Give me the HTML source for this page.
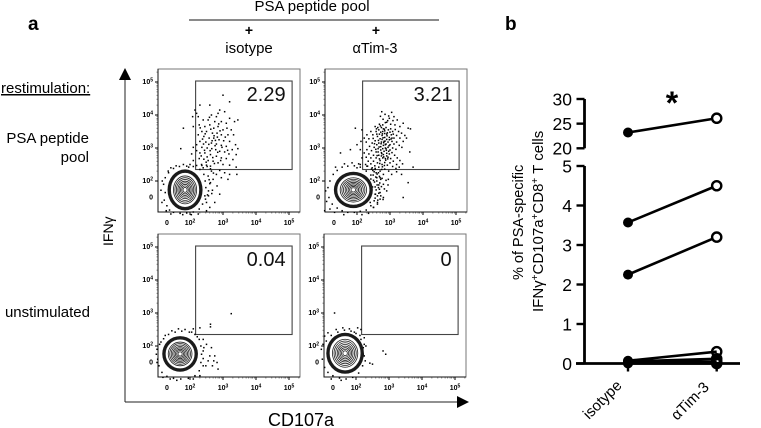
<!DOCTYPE html>
<html lang="en">
<head>
<meta charset="utf-8">
<title>IFN-gamma and CD107a flow panels</title>
<style>
html,body{margin:0;padding:0;background:#fff}
svg{display:block;font-family:"Liberation Sans",sans-serif;filter:blur(0.3px)}
</style>
</head>
<body>
<svg id="fig" xmlns="http://www.w3.org/2000/svg" width="761" height="428" viewBox="0 0 761 428">
<rect width="761" height="428" fill="#fff"/>
<text x="28" y="30" font-size="19" font-weight="bold">a</text>
<text x="505" y="30" font-size="19" font-weight="bold">b</text>
<text x="312" y="11" font-size="15" text-anchor="middle">PSA peptide pool</text>
<line x1="189" y1="20" x2="439" y2="20" stroke="#444" stroke-width="1.2"/>
<text x="249" y="35" font-size="14" font-weight="bold" text-anchor="middle">+</text>
<text x="249" y="53" font-size="15" text-anchor="middle">isotype</text>
<text x="376" y="35" font-size="14" font-weight="bold" text-anchor="middle">+</text>
<text x="375" y="53" font-size="14.5" text-anchor="middle">αTim-3</text>
<text x="1" y="93" font-size="15" text-decoration="underline">restimulation:</text>
<text x="89" y="143" font-size="15" text-anchor="end">PSA peptide</text>
<text x="89" y="162" font-size="15" text-anchor="end">pool</text>
<text x="90" y="317" font-size="15" text-anchor="end">unstimulated</text>
<text transform="translate(113,246) rotate(-90)" font-size="14">IFNγ</text>
<text x="301" y="426" font-size="18" text-anchor="middle">CD107a</text>
<line x1="125" y1="78" x2="125" y2="402" stroke="#222" stroke-width="1"/>
<polygon points="125,68 119,80 131,80" fill="#000"/>
<line x1="125" y1="402" x2="460" y2="402" stroke="#222" stroke-width="1"/>
<polygon points="469,402 457,396 457,408" fill="#000"/>
<g id="flow"></g>
<g id="paired"></g>
<text x="672" y="114" font-size="32" font-weight="bold" text-anchor="middle">*</text>
<text transform="translate(523,280) rotate(-90)" font-size="14.5">% of PSA-specific</text>
<text transform="translate(543,312) rotate(-90)" font-size="15">IFNγ<tspan dy="-5" font-size="10">+</tspan><tspan dy="5">CD107a</tspan><tspan dy="-5" font-size="10">+</tspan><tspan dy="5">CD8</tspan><tspan dy="-5" font-size="10">+</tspan><tspan dy="5"> T cells</tspan></text>
<text transform="translate(589,420) rotate(-45)" font-size="15">isotype</text>
<text transform="translate(677,421) rotate(-45)" font-size="15">αTim-3</text>
</svg>
<script>
// Flow panel data, all values in log10 display decades (CD107a, IFNg pairs).
const flowMajorTicks = [2, 3, 4, 5];
const gateValues = ["2.29", "3.21", "0.04", "0"];
const contourLevels = [1, 0.8, 0.7, 0.6, 0.5, 0.41, 0.32, 0.23, 0.14];
const p1Center = [1.85, 1.73];
const p2Center = [1.89, 1.73];
const p3Center = [1.7, 1.76];
const p4Center = [1.67, 1.78];
const p1Radii = [0.44, 0.53];
const p2Radii = [0.5, 0.46];
const p3Radii = [0.45, 0.45];
const p4Radii = [0.48, 0.53];
const p1Points = [2.3,4.3,2.6,4.3,3.0,4.6,3.2,4.4,2.9,4.15,2.85,4.05,3.05,4.1,2.65,4.0,2.8,3.95,3.2,3.9,3.35,3.8,3.45,3.85,3.1,3.75,2.95,3.8,2.75,3.8,2.55,3.85,2.4,3.85,2.25,3.95,2.2,4.05,2.1,3.65,2.28,3.7,2.45,3.65,2.6,3.7,2.72,3.6,2.85,3.65,3.0,3.55,3.12,3.6,3.25,3.55,3.32,3.4,3.15,3.4,2.95,3.4,2.82,3.45,2.68,3.45,2.5,3.5,2.36,3.5,2.25,3.4,2.42,3.35,2.58,3.3,2.72,3.3,2.88,3.25,3.02,3.22,3.2,3.2,3.38,3.1,3.45,2.98,3.28,2.95,3.1,3.05,2.95,3.08,2.8,3.12,2.65,3.15,2.48,3.18,2.3,3.2,2.2,3.1,2.36,3.02,2.52,3.0,2.66,2.98,2.78,2.95,2.9,2.9,3.05,2.88,3.18,2.82,3.4,2.8,3.3,2.65,3.1,2.68,2.95,2.7,2.8,2.75,2.62,2.8,2.45,2.85,2.3,2.85,2.2,2.92,2.28,2.68,2.42,2.66,2.55,2.62,2.7,2.6,2.85,2.55,3.0,2.5,3.2,2.48,3.4,2.42,2.5,2.48,2.35,2.5,2.62,2.45,1.8,3.6,2.08,3.95,2.15,4.15,2.1,3.02,1.72,2.98,2.05,2.82,2.1,2.62,2.9,2.32,3.05,2.25,3.2,2.2,3.42,2.2,3.15,2.05,2.95,2.1,2.8,2.2,2.7,2.05,2.62,1.95,2.82,1.85,2.9,1.6,2.68,1.72,2.56,1.55,2.75,1.35,2.6,1.2,
2.73,3.37,2.57,3.11,2.44,2.93,2.91,3.52,2.63,3.57,2.77,3.23,2.52,2.73,2.38,3.27,2.84,2.87,2.69,2.71,2.46,3.43,3.07,3.33,2.59,3.93,2.34,2.76,2.76,3.07,2.97,3.02,2.67,3.22,2.87,3.73,2.41,3.12,2.31,3.61,2.93,2.62,3.14,2.93,2.61,2.92,2.74,2.53,2.49,2.57,2.83,3.33];
const p1Fringe = [1.2,1.9,1.25,1.65,1.22,1.42,1.3,1.25,1.38,1.12,1.5,1.05,1.7,1.02,1.9,1.03,2.1,1.06,2.28,1.15,2.38,1.3,2.45,1.55,2.48,1.8,2.46,2.0,2.42,2.2,2.3,2.35,2.1,2.44,1.9,2.45,1.68,2.44,1.5,2.38,1.35,2.25,1.25,2.1,1.16,2.0,1.28,1.1,2.5,1.35,2.55,2.15,1.58,2.46,2.2,2.47,1.8,2.5,2.0,2.5,1.42,2.4,2.4,2.4,1.12,1.72,1.15,1.35,1.42,1.0,2.25,1.0,2.5,1.1,1.78,0.98,2.04,0.98,1.96,2.42,1.34,2.3,2.56,1.7,2.6,1.92,2.65,2.3,2.52,2.44,2.36,2.47,2.62,2.37,2.71,2.24,2.58,2.04,2.47,1.45,2.53,1.58,2.66,1.62];
const p2Points = [2.75,4.1,2.85,4.02,3.05,4.08,3.12,3.95,2.98,3.9,3.22,3.85,3.4,3.75,3.55,3.6,3.62,3.58,3.3,3.65,3.15,3.7,3.02,3.72,2.9,3.78,2.78,3.7,2.68,3.72,2.55,3.65,2.42,3.5,2.3,3.4,2.22,3.3,2.28,3.18,2.36,3.28,2.48,3.4,2.58,3.5,2.66,3.55,2.72,3.48,2.8,3.58,2.88,3.62,2.95,3.55,3.02,3.58,3.08,3.5,3.16,3.56,3.26,3.5,3.35,3.45,3.45,3.38,3.5,3.3,3.4,3.2,3.3,3.3,3.2,3.38,3.12,3.3,3.04,3.4,2.98,3.32,2.9,3.42,2.84,3.32,2.76,3.38,2.7,3.28,2.62,3.35,2.55,3.22,2.46,3.15,2.38,3.05,2.3,2.95,2.22,2.85,2.28,2.72,2.36,2.82,2.44,2.92,2.52,3.02,2.6,3.1,2.66,3.15,2.74,3.18,2.82,3.2,2.88,3.12,2.94,3.18,3.0,3.1,3.06,3.2,3.12,3.12,3.2,3.18,3.28,3.08,3.36,3.02,3.18,2.96,3.08,3.0,3.0,2.94,2.94,3.02,2.86,3.0,2.8,3.08,2.72,3.04,2.64,2.98,2.58,2.88,2.5,2.78,2.42,2.7,2.34,2.6,2.26,2.5,2.32,2.45,2.42,2.52,2.5,2.6,2.58,2.7,2.66,2.78,2.74,2.86,2.82,2.9,2.9,2.84,2.98,2.82,3.06,2.86,3.14,2.78,3.22,2.7,3.3,2.62,3.38,2.52,3.6,2.88,3.7,2.42,3.2,2.5,3.1,2.6,3.02,2.68,2.94,2.72,2.86,2.68,2.78,2.7,2.7,2.62,2.62,2.55,2.54,2.46,2.46,2.4,2.55,2.35,2.66,2.42,2.76,2.5,2.84,2.56,2.92,2.48,3.0,2.55,3.08,2.44,3.18,2.38,3.28,2.42,2.7,2.3,2.84,2.36,2.96,2.3,2.74,3.62,2.84,3.52,2.92,3.46,3.0,3.48,3.1,3.42,2.78,3.5,2.68,3.42,2.6,3.42,2.86,3.1,2.78,2.98,2.88,2.98,2.96,2.9,2.72,2.94,2.8,2.8,2.9,2.76,2.64,2.88,2.98,3.25,3.06,3.3,2.84,3.44,2.9,3.26,2.76,3.26,1.95,3.6,1.5,2.85,1.8,2.95,2.0,3.1,2.1,2.95,2.12,3.2,2.15,2.7,2.1,2.5,2.15,3.55,2.0,2.4,3.55,1.95,3.35,2.2,3.2,2.28,3.05,2.2,2.95,2.05,2.8,2.2,2.7,2.1,2.6,2.0,2.8,1.9,2.9,1.7,2.65,1.8,2.55,1.6,2.7,1.45,2.62,1.3,2.5,1.2,3.4,1.5,
2.71,3.67,2.77,3.43,2.83,3.57,2.73,3.13,2.79,3.31,2.85,3.21,2.91,3.37,2.67,3.03,2.75,2.83,2.81,2.73,2.87,2.63,2.93,2.67,2.69,2.53,2.77,2.43,2.83,2.47,2.89,2.93,2.65,3.23,2.81,3.16,2.97,3.07,2.63,3.62,2.86,3.77,2.93,3.83,3.03,3.27,2.74,2.76,2.68,2.67,2.61,2.77,2.57,2.96,2.53,3.13,2.49,3.29,2.59,3.58,2.79,3.87,2.96,3.97,3.09,3.83,2.71,3.96,
2.44,2.36,2.52,2.28,2.61,2.21,2.68,2.14,2.76,2.08,2.57,2.12,2.49,2.18,2.42,2.06,2.53,1.97,2.61,1.88,2.69,1.94,2.74,1.83,2.58,1.73,2.66,1.63,2.72,1.55,2.83,1.76,2.88,2.02,2.94,1.88,2.47,1.82,2.55,1.48,2.63,1.42,2.79,1.44];
const p2Fringe = [1.15,1.5,1.12,1.8,1.18,2.0,1.28,2.2,1.4,2.32,1.55,2.42,1.72,2.45,1.92,2.46,2.1,2.42,2.28,2.3,2.42,2.18,2.5,2.02,2.55,1.82,2.56,1.6,2.52,1.4,2.42,1.25,2.28,1.12,2.1,1.08,1.92,1.05,1.72,1.05,1.55,1.1,1.4,1.18,1.25,1.3,1.18,1.15,1.05,1.7,1.35,2.42,1.62,2.52,1.85,2.55,2.05,2.52,2.3,2.45,2.48,2.32,2.6,2.1,2.66,1.88,2.7,1.65,2.62,1.35,2.5,1.2,2.35,1.02,2.15,0.98,1.6,0.98,1.32,1.05,1.08,1.38,1.02,1.1,2.65,2.25,2.72,2.05,2.8,1.5,2.75,2.35,2.55,2.38,2.62,1.55,2.68,1.75,2.58,2.25,2.4,1.35];
const p3Points = [3.25,2.98,2.62,2.66,2.62,2.58,2.4,2.2,2.5,2.05,2.4,1.85,2.65,1.95,2.6,1.7,2.75,1.7,2.82,1.5,2.68,1.4,2.85,1.3,2.55,1.55,2.72,1.55,2.48,1.4,2.3,2.55,2.1,2.52];
const p3Fringe = [1.0,1.9,1.02,1.6,1.06,1.4,1.15,1.2,1.3,1.08,1.5,1.02,1.72,1.0,1.95,1.02,2.15,1.1,2.28,1.25,2.33,1.5,2.35,1.75,2.33,2.0,2.28,2.2,2.15,2.35,1.98,2.42,1.75,2.45,1.55,2.42,1.35,2.35,1.2,2.22,1.08,2.05,0.98,1.75,1.0,1.5,1.18,1.05,2.1,1.0,2.3,1.1,2.4,1.4,2.42,1.95,1.85,2.5,1.65,2.52,1.45,2.46,1.25,2.32,1.12,2.12,2.05,2.42,2.22,2.28,1.6,0.96,1.4,1.0,2.4,1.62];
const p4Points = [1.35,3.0,2.82,1.85,2.9,1.75,2.5,1.45,2.42,1.48,2.22,1.75,2.3,2.0,2.25,2.25,2.15,2.5,2.05,2.55];
const p4Fringe = [0.95,1.9,0.98,1.6,1.05,1.35,1.15,1.2,1.3,1.1,1.5,1.03,1.7,1.0,1.9,1.05,2.08,1.18,2.2,1.4,2.25,1.7,2.22,1.95,2.15,2.2,2.0,2.38,1.85,2.45,1.65,2.48,1.45,2.42,1.25,2.32,1.1,2.15,1.0,2.05,1.15,2.4,1.05,2.3,1.4,2.5,1.6,2.55,1.8,2.52,1.95,2.42,2.12,2.32,2.25,2.05,2.28,1.55,1.25,1.0,1.55,0.96];

// Paired-line chart data.
const pairedCategories = ["isotype", "αTim-3"];
const isotypeValues = [23.2, 3.57, 2.25, 0.07, 0.05, 0.03, 0];
const atim3Values = [26.1, 4.5, 3.2, 0.3, 0.12, 0.05, 0];
const lowerTicks = [0, 1, 2, 3, 4, 5];
const upperTicks = [20, 25, 30];

const NS = "http://www.w3.org/2000/svg";
function mk(parent, tag, attrs, txt) {
  const e = document.createElementNS(NS, tag);
  for (const k in attrs) e.setAttribute(k, attrs[k]);
  if (txt !== undefined) e.textContent = txt;
  parent.appendChild(e);
  return e;
}
const flow = document.getElementById("flow");

function drawPanel(i, x2, y2, center, radii, points, fringe) {
  const X = v => x2 + (v - 2) * 33;
  const Y = v => y2 - (v - 2) * 33;
  const sx = v => v * 33;
  const g = mk(flow, "g", {});
  
  
  const left = x2 - 32, right = x2 + 110, top = y2 - 112, bottom = y2 + 31;
  const box = mk(g, "rect", {x: left, y: top, width: right - left, height: bottom - top, fill: "#fff", stroke: "#777", "stroke-width": 1});
  
  
  const axes = mk(g, "path", {d: "M" + left + " " + top + "V" + bottom + "H" + right, fill: "none", stroke: "#111", "stroke-width": 1});
  
  
  flowMajorTicks.forEach(t => {
    const mx = mk(g, "line", {x1: X(t), x2: X(t), y1: bottom, y2: bottom + 3, stroke: "#000", "stroke-width": 1});
    
    
    const my = mk(g, "line", {x1: left - 3, x2: left, y1: Y(t), y2: Y(t), stroke: "#000", "stroke-width": 1});
    
    
    [0.3, 0.48, 0.6, 0.7, 0.78, 0.85, 0.9, 0.95].forEach(m => {
      if (t + m > 5.3) return;
      const nx = mk(g, "line", {x1: X(t + m), x2: X(t + m), y1: bottom, y2: bottom + 1.5, stroke: "#333", "stroke-width": 0.6});
      
      
      const ny = mk(g, "line", {x1: left - 1.5, x2: left, y1: Y(t + m), y2: Y(t + m), stroke: "#333", "stroke-width": 0.6});
      
      
    });
    const lx = mk(g, "text", {x: X(t), y: bottom + 13, "font-size": 7, "font-weight": "bold", "text-anchor": "middle"}, "10");
    
    
    mk(lx, "tspan", {dy: -2.5, "font-size": 5}, String(t));
    const ly = mk(g, "text", {x: left - 5, y: Y(t) + 2, "font-size": 7, "font-weight": "bold", "text-anchor": "end"}, "10");
    
    
    mk(ly, "tspan", {dy: -2.5, "font-size": 5}, String(t));
  });
  const zx = mk(g, "text", {x: X(1.3), y: bottom + 13, "font-size": 7, "font-weight": "bold", "text-anchor": "middle"}, "0");
  
  
  const zy = mk(g, "text", {x: left - 5, y: Y(1.52) + 2.5, "font-size": 7, "font-weight": "bold", "text-anchor": "end"}, "0");
  
  

  const gate = mk(g, "rect", {x: X(2.17), y: Y(5.03), width: 96.5, height: 88.5, fill: "none", stroke: "#444", "stroke-width": 1.1});
  
  

  function dots(arr, name) {
    const d = mk(g, "g", {fill: "#000"});
    
    
    for (let k = 0; k < arr.length; k += 2) {
      mk(d, "rect", {x: X(arr[k]) - 0.75, y: Y(arr[k + 1]) - 0.75, width: 1.5, height: 1.5});
    }
  }
  dots(points, 'event-dots');
  dots(fringe, 'fringe-dots');

  const halo = mk(g, "ellipse", {cx: X(center[0]), cy: Y(center[1]), rx: sx(radii[0]) + 3, ry: sx(radii[1]) + 3, fill: "#1a1a1a"});
  
  
  contourLevels.forEach((lv, n) => {
    const c = mk(g, "ellipse", {cx: X(center[0]), cy: Y(center[1]), rx: sx(radii[0]) * lv, ry: sx(radii[1]) * lv, fill: n === 0 ? "#fff" : "none", stroke: "#222", "stroke-width": 0.8});
    
    
  });

  const val = mk(g, "text", {x: X(2.17) + 90, y: Y(5.03) + 20, "font-size": 20, "text-anchor": "end", fill: "#111"}, gateValues[i]);
  
  
}
drawPanel(0, 190, 181, p1Center, p1Radii, p1Points, p1Fringe);
drawPanel(1, 357, 181, p2Center, p2Radii, p2Points, p2Fringe);
drawPanel(2, 190, 346, p3Center, p3Radii, p3Points, p3Fringe);
drawPanel(3, 356, 346, p4Center, p4Radii, p4Points, p4Fringe);

// Paired chart with a broken y axis.
const paired = document.getElementById("paired");
const lowY = v => 363.5 - v * 39.5;
const upY = v => 148.3 - (v - 20) * 4.93;
const valY = v => v > 5 ? upY(v) : lowY(v);
const catX = i => 628 + i * 88.7;
const axisX = 584.5;
const upAxis = mk(paired, "line", {x1: axisX, x2: axisX, y1: upY(30), y2: upY(20), stroke: "#000", "stroke-width": 2.8});


const lowAxis = mk(paired, "line", {x1: axisX, x2: axisX, y1: lowY(5), y2: lowY(0), stroke: "#000", "stroke-width": 2.8});


const baseAxis = mk(paired, "line", {x1: 576, x2: 740, y1: lowY(0), y2: lowY(0), stroke: "#000", "stroke-width": 2.8});


function yTick(v, y) {
  const t = mk(paired, "line", {x1: 576.5, x2: axisX, y1: y, y2: y, stroke: "#000", "stroke-width": 2.4});
  
  
  const l = mk(paired, "text", {x: 572, y: y + 6.3, "font-size": 17.5, "text-anchor": "end"}, String(v));
  
  
}
lowerTicks.forEach(v => yTick(v, lowY(v)));
upperTicks.forEach(v => yTick(v, upY(v)));
pairedCategories.forEach((c, i) => {
  const t = mk(paired, "line", {x1: catX(i), x2: catX(i), y1: lowY(0), y2: lowY(0) + 8, stroke: "#000", "stroke-width": 2.4});
  
  
});
isotypeValues.forEach((v, i) => {
  const ln = mk(paired, "line", {x1: catX(0), y1: valY(v), x2: catX(1), y2: valY(atim3Values[i]), stroke: "#000", "stroke-width": 2.6});
  
  
});
isotypeValues.forEach((v, i) => {
  const a = mk(paired, "circle", {cx: catX(0), cy: valY(v), r: 5, fill: "#000"});
  
  
  const b = mk(paired, "circle", {cx: catX(1), cy: valY(atim3Values[i]), r: 4.6, fill: i < 3 ? "#fff" : "none", stroke: "#000", "stroke-width": 2.4});
  
  
});
</script>
</body>
</html>
